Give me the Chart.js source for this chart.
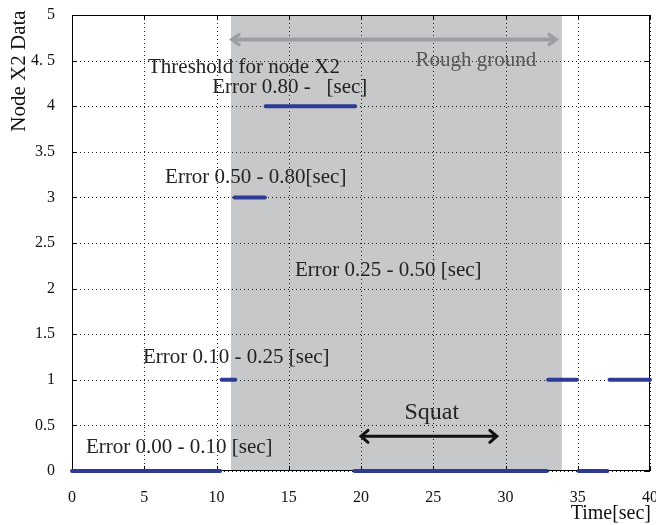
<!DOCTYPE html>
<html><head><meta charset="utf-8">
<script src="https://cdn.jsdelivr.net/npm/chart.js@4/dist/chart.umd.min.js"></script>
<style>html,body{margin:0;padding:0;background:#fff}#wrap{width:656px;height:525px}</style>
</head><body><div id="wrap"><canvas id="c" width="656" height="525"></canvas></div>
<script>
// Segment data: start time, end time, node X2 level
const segStart = [0, 10.35, 11.25, 13.4, 19.55, 32.95, 35.05, 37.2];
const segEnd   = [10.25, 11.3, 13.35, 19.6, 32.85, 34.95, 37.05, 40];
const segLevel = [0, 1, 3, 4, 0, 1, 0, 1];
const xTickValues = [0, 5, 10, 15, 20, 25, 30, 35, 40];
const yTickLabels = ['0','0.5','1','1.5','2','2.5','3','3.5','4','4. 5','5'];
const roughGround = [11.0, 33.9];
const squatRange = [20.0, 29.4];
const annotations = [
  {text:'Threshold for node X2', x:5.26, y:4.42, align:'left', color:'#222'},
  {text:'Error 0.80 -   [sec]', x:9.7, y:4.2, align:'left', color:'#222'},
  {text:'Error 0.50 - 0.80[sec]', x:6.44, y:3.22, align:'left', color:'#222'},
  {text:'Error 0.25 - 0.50 [sec]', x:15.43, y:2.2, align:'left', color:'#222'},
  {text:'Error 0.10 - 0.25 [sec]', x:4.91, y:1.24, align:'left', color:'#222'},
  {text:'Error 0.00 - 0.10 [sec]', x:0.97, y:0.26, align:'left', color:'#222'},
  {text:'Rough ground', x:27.95, y:4.5, align:'center', color:'#555'}
];

const pts = [];
for (let i = 0; i < segStart.length; i++) {
  pts.push({x: segStart[i], y: segLevel[i]});
  pts.push({x: segEnd[i], y: segLevel[i]});
  pts.push({x: segEnd[i], y: null});
}

const SERIF = '"Liberation Serif", "Times New Roman", serif';

function arrowHead(ctx, x, y, dir, len, half) {
  ctx.beginPath();
  ctx.moveTo(x + dir * len, y - half);
  ctx.lineTo(x, y);
  ctx.lineTo(x + dir * len, y + half);
  ctx.stroke();
}

const decor = {
  id: 'decor',
  beforeDraw(chart) {
    const {ctx, chartArea: a, scales: {x, y}} = chart;
    ctx.save();
    ctx.fillStyle = '#fff';
    ctx.fillRect(0, 0, chart.width, chart.height);
    ctx.fillStyle = '#c7c8ca';
    const x1 = x.getPixelForValue(roughGround[0]), x2 = x.getPixelForValue(roughGround[1]);
    ctx.fillRect(x1, a.top, x2 - x1, a.bottom - a.top);
    ctx.restore();
  },
  beforeDatasetsDraw(chart) {
    const {ctx, chartArea: a, scales: {x, y}} = chart;
    ctx.save();
    // dotted grid
    ctx.strokeStyle = '#222';
    ctx.lineWidth = 1;
    ctx.setLineDash([1, 3]);
    ctx.beginPath();
    xTickValues.forEach(v => {
      const px = Math.round(x.getPixelForValue(v)) + 0.5;
      ctx.moveTo(px, a.top); ctx.lineTo(px, a.bottom);
    });
    for (let i = 0; i < yTickLabels.length; i++) {
      const py = Math.round(y.getPixelForValue(i * 0.5)) + 0.5;
      ctx.moveTo(a.left, py); ctx.lineTo(a.right, py);
    }
    ctx.stroke();
    ctx.setLineDash([]);
    // frame
    ctx.strokeStyle = '#000';
    ctx.strokeRect(Math.round(a.left) + 0.5, Math.round(a.top) + 0.5, Math.round(a.right - a.left) - 1, Math.round(a.bottom - a.top) - 1);
    // inward ticks
    ctx.beginPath();
    xTickValues.forEach(v => {
      const px = Math.round(x.getPixelForValue(v)) + 0.5;
      ctx.moveTo(px, a.bottom); ctx.lineTo(px, a.bottom - 5);
      ctx.moveTo(px, a.top); ctx.lineTo(px, a.top + 5);
    });
    for (let i = 0; i < yTickLabels.length; i++) {
      const py = Math.round(y.getPixelForValue(i * 0.5)) + 0.5;
      ctx.moveTo(a.left, py); ctx.lineTo(a.left + 5, py);
      ctx.moveTo(a.right, py); ctx.lineTo(a.right - 5, py);
    }
    ctx.stroke();
    ctx.restore();
  },
  afterDraw(chart) {
    const {ctx, chartArea: a, scales: {x, y}} = chart;
    ctx.save();
    // grey rough ground arrow
    const gy = y.getPixelForValue(4.73);
    const gx1 = x.getPixelForValue(roughGround[0]) + 1, gx2 = x.getPixelForValue(33.5);
    ctx.strokeStyle = '#9b9fa4';
    ctx.lineWidth = 4;
    ctx.lineCap = 'butt';
    ctx.beginPath(); ctx.moveTo(gx1 + 2, gy); ctx.lineTo(gx2 - 2, gy); ctx.stroke();
    ctx.lineCap = 'round'; ctx.lineJoin = 'miter';
    ctx.lineWidth = 3.5;
    arrowHead(ctx, gx1, gy, 1, 7, 5);
    arrowHead(ctx, gx2, gy, -1, 7, 5);

    // squat arrow
    const sy = y.getPixelForValue(0.38);
    const sx1 = x.getPixelForValue(squatRange[0]), sx2 = x.getPixelForValue(squatRange[1]);
    ctx.strokeStyle = '#111';
    ctx.lineWidth = 3;
    ctx.lineCap = 'butt';
    ctx.beginPath(); ctx.moveTo(sx1 + 2, sy); ctx.lineTo(sx2 - 2, sy); ctx.stroke();
    ctx.lineCap = 'round';
    arrowHead(ctx, sx1, sy, 1, 7, 6);
    arrowHead(ctx, sx2, sy, -1, 7, 6);

    // texts
    ctx.textBaseline = 'middle';
    ctx.font = '21px ' + SERIF;
    annotations.forEach(t => {
      ctx.fillStyle = t.color;
      ctx.textAlign = t.align;
      ctx.fillText(t.text, x.getPixelForValue(t.x), y.getPixelForValue(t.y));
    });
    ctx.font = '24px ' + SERIF;
    ctx.fillStyle = '#222';
    ctx.textAlign = 'center';
    ctx.fillText('Squat', x.getPixelForValue((squatRange[0] + squatRange[1]) / 2 + 0.2), y.getPixelForValue(0.64));

    // axis titles
    ctx.font = '20px ' + SERIF;
    ctx.fillStyle = '#111';
    ctx.textAlign = 'right';
    ctx.textBaseline = 'alphabetic';
    ctx.fillText('Time[sec]', a.right + 1, 519);
    ctx.font = '21px ' + SERIF;
    ctx.save();
    ctx.translate(25, 71);
    ctx.rotate(-Math.PI / 2);
    ctx.textAlign = 'center';
    ctx.fillText('Node X2 Data', 0, 0);
    ctx.restore();
    ctx.restore();
  }
};

new Chart(document.getElementById('c'), {
  type: 'line',
  data: {
    datasets: [{
      data: pts,
      borderColor: '#2e3a94',
      borderWidth: 4,
      borderCapStyle: 'round',
      pointRadius: 0,
      spanGaps: false,
      tension: 0,
      clip: 6
    }]
  },
  options: {
    responsive: false,
    animation: false,
    devicePixelRatio: 1,
    layout: {padding: {left: 0, right: 6, top: 15, bottom: 0}},
    plugins: {legend: {display: false}, tooltip: {enabled: false}},
    scales: {
      x: {
        type: 'linear', min: 0, max: 40,
        afterFit: s => { s.height = 54; s.paddingLeft = 0; s.paddingRight = 0; },
        afterBuildTicks: s => { s.ticks = xTickValues.map(v => ({value: v})); },
        grid: {display: false},
        border: {display: false},
        ticks: {font: {family: SERIF, size: 16}, color: '#111', padding: 9, maxRotation: 0,
          callback: v => String(v)}
      },
      y: {
        type: 'linear', min: 0, max: 5,
        afterFit: s => { s.width = 72; s.paddingTop = 0; s.paddingBottom = 0; },
        afterBuildTicks: s => { s.ticks = yTickLabels.map((l, i) => ({value: i * 0.5})); },
        grid: {display: false},
        border: {display: false},
        ticks: {font: {family: SERIF, size: 16}, color: '#111', padding: 9,
          callback: (v, i) => yTickLabels[i]}
      }
    }
  },
  plugins: [decor]
});
</script>
</body></html>
